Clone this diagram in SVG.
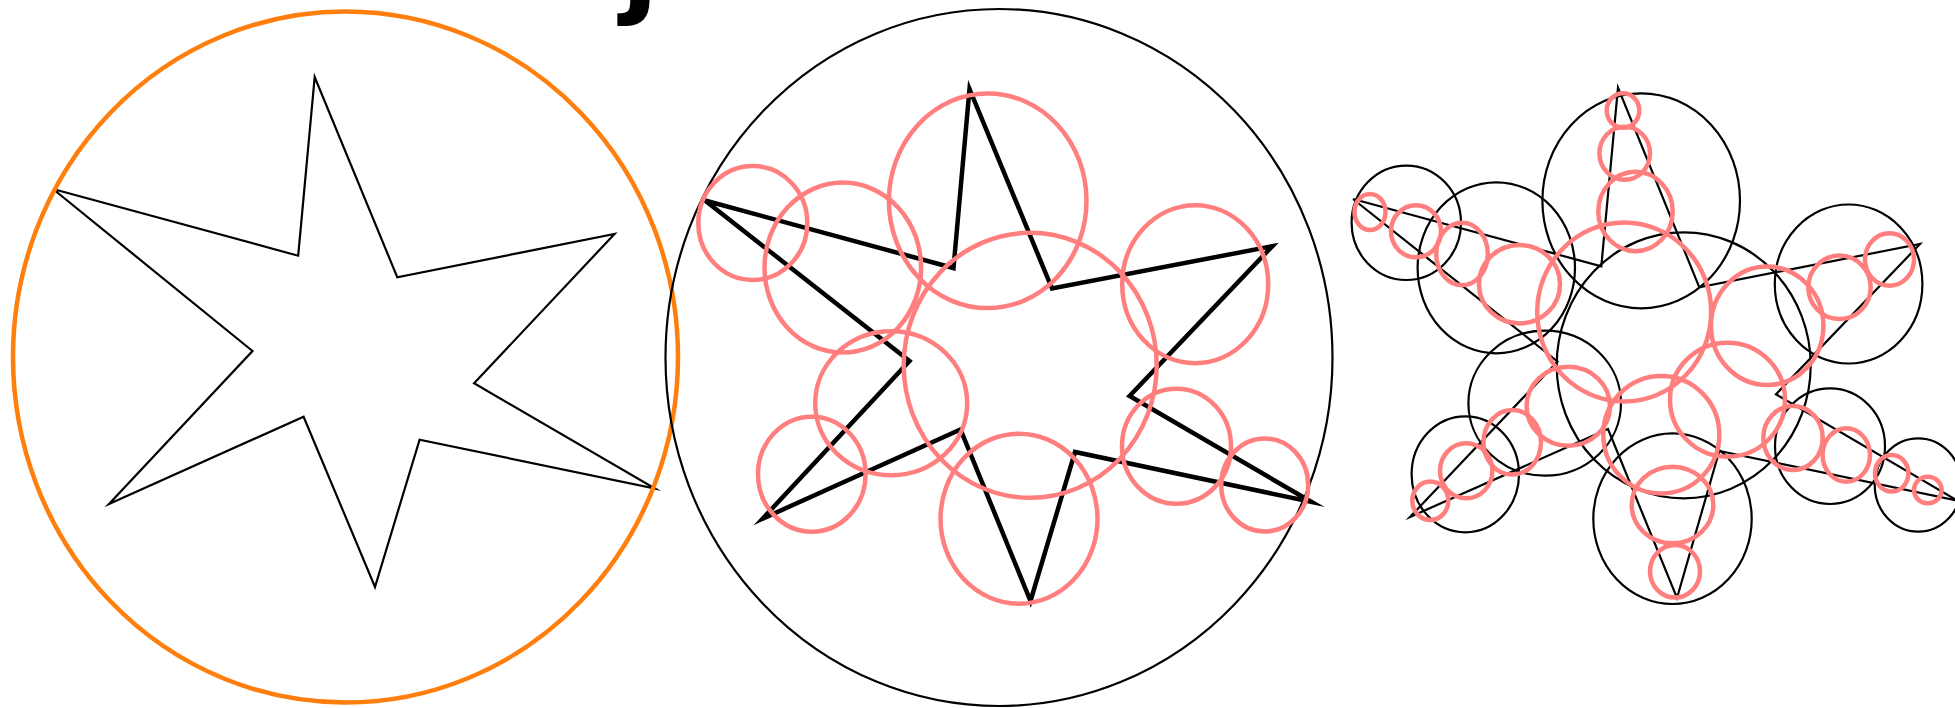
<svg xmlns="http://www.w3.org/2000/svg" width="1955" height="708" viewBox="0 0 1955 708">
<style>
.star{fill:none;stroke:#000;stroke-linejoin:miter;stroke-miterlimit:30;stroke-linecap:butt}
.thin{stroke-width:2.2}
.thick{stroke-width:4.5}
.pk{fill:none;stroke:#ff7f7f;stroke-width:4.5}
.bk{fill:none;stroke:#000;stroke-width:2.2}
.or{fill:none;stroke:#ff7f0e;stroke-width:4.5}
</style>
<rect width="1955" height="708" fill="#fff"/>
<text id="title" x="621" y="2" font-family="DejaVu Sans, sans-serif" font-weight="bold" font-size="110" fill="#000">j</text>
<g id="panel1">
<path class="star thin" d="M53,189 L298.2,255.7 L314.7,77 L397.3,277.3 L614.5,234 L474.1,383.3 L655,488.5 L419.6,439.7 L375,587 L303.6,416.7 L109,504 L252.5,351 L53,189"/>
<ellipse class="or" cx="345.5" cy="357" rx="332.5" ry="345.5"/>
</g>
<g id="panel2">
<ellipse class="bk" cx="999" cy="357.5" rx="333.5" ry="348.5"/>
<path class="star thick" d="M705,200.5 L953.5,268 L969.5,89 L1052,288.5 L1272.3,246.2 L1129.6,396 L1311.6,502 L1075,452 L1030.5,601 L960.5,429.5 L762.7,518.6 L909.5,361 L705,200.5"/>
<ellipse class="pk" cx="752.8" cy="223" rx="54.5" ry="57"/>
<ellipse class="pk" cx="842.8" cy="267.6" rx="78.3" ry="85"/>
<ellipse class="pk" cx="987.7" cy="200.8" rx="98.8" ry="107.3"/>
<ellipse class="pk" cx="1030.2" cy="365.3" rx="126.5" ry="132.5"/>
<ellipse class="pk" cx="1195.2" cy="284.2" rx="73" ry="79"/>
<ellipse class="pk" cx="891.2" cy="403.3" rx="76" ry="72"/>
<ellipse class="pk" cx="811.8" cy="474.2" rx="53.8" ry="57.5"/>
<ellipse class="pk" cx="1019" cy="518.7" rx="78.5" ry="85"/>
<ellipse class="pk" cx="1176.5" cy="446.2" rx="54.5" ry="57.5"/>
<ellipse class="pk" cx="1264.7" cy="485" rx="43.5" ry="46.5"/>
</g>
<g id="panel3">
<path class="star thin" d="M1353,199 L1601.3,266.3 L1618,87.5 L1699.3,287.3 L1920,244 L1776,394.3 L1957,500.5 L1719.3,451 L1677,598 L1608,429 L1410,517 L1557.5,361.5 L1353,199"/>
<ellipse class="bk" cx="1406.3" cy="222.8" rx="54.7" ry="57.2"/>
<ellipse class="bk" cx="1496.3" cy="267.8" rx="78.7" ry="85.5"/>
<ellipse class="bk" cx="1641.2" cy="200.8" rx="98.8" ry="107.5"/>
<ellipse class="bk" cx="1683.7" cy="365.3" rx="127" ry="133"/>
<ellipse class="bk" cx="1848.6" cy="284" rx="73.8" ry="79.5"/>
<ellipse class="bk" cx="1544.7" cy="403.2" rx="76.3" ry="72.5"/>
<ellipse class="bk" cx="1465.3" cy="474.3" rx="53.7" ry="58"/>
<ellipse class="bk" cx="1672.5" cy="518.7" rx="79.2" ry="85.3"/>
<ellipse class="bk" cx="1830" cy="446.2" rx="55" ry="57.8"/>
<ellipse class="bk" cx="1918.2" cy="485" rx="43.5" ry="46.7"/>
<ellipse class="pk" cx="1370" cy="212" rx="15.5" ry="18"/>
<ellipse class="pk" cx="1416" cy="231.3" rx="25" ry="26"/>
<ellipse class="pk" cx="1462" cy="254" rx="25.8" ry="31.3"/>
<ellipse class="pk" cx="1519.5" cy="284.2" rx="40.5" ry="39.2"/>
<ellipse class="pk" cx="1624.2" cy="312" rx="87" ry="89.5"/>
<ellipse class="pk" cx="1623" cy="110.5" rx="16.3" ry="17.2"/>
<ellipse class="pk" cx="1624.7" cy="153.3" rx="25.3" ry="26.5"/>
<ellipse class="pk" cx="1635.5" cy="211.5" rx="37.2" ry="39.7"/>
<ellipse class="pk" cx="1767.2" cy="325.8" rx="56.2" ry="59.2"/>
<ellipse class="pk" cx="1839.5" cy="287.3" rx="31.2" ry="31.7"/>
<ellipse class="pk" cx="1889.5" cy="259.5" rx="24.5" ry="26.2"/>
<ellipse class="pk" cx="1727.5" cy="399.7" rx="57.5" ry="57"/>
<ellipse class="pk" cx="1661.3" cy="434.7" rx="58" ry="58.7"/>
<ellipse class="pk" cx="1568.3" cy="406.2" rx="41.7" ry="39.5"/>
<ellipse class="pk" cx="1512.2" cy="442.3" rx="28.8" ry="32.3"/>
<ellipse class="pk" cx="1466.2" cy="470.8" rx="26.2" ry="27.5"/>
<ellipse class="pk" cx="1430.3" cy="500.8" rx="18" ry="19.2"/>
<ellipse class="pk" cx="1672.5" cy="505" rx="40.8" ry="38.3"/>
<ellipse class="pk" cx="1675" cy="571.3" rx="25" ry="26.3"/>
<ellipse class="pk" cx="1793" cy="438" rx="29.7" ry="32"/>
<ellipse class="pk" cx="1846.3" cy="455" rx="23.7" ry="26.7"/>
<ellipse class="pk" cx="1891.7" cy="473.3" rx="16.7" ry="18.3"/>
<ellipse class="pk" cx="1927.8" cy="490" rx="13.8" ry="13.3"/>
</g>
</svg>
